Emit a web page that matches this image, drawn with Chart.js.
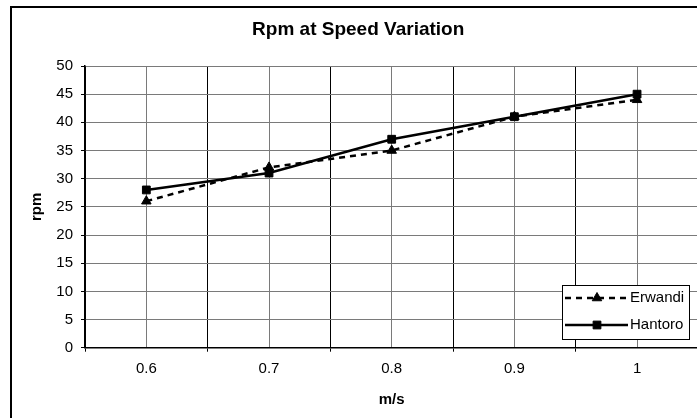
<!DOCTYPE html>
<html>
<head>
<meta charset="utf-8">
<script src="https://cdn.jsdelivr.net/npm/chart.js@4.4.1/dist/chart.umd.min.js"></script>
<style>
  html, body { margin: 0; padding: 0; background: #fff; overflow: hidden; }
  #myChart { display: block; position: absolute; left: 0; top: 0; }
</style>
</head>
<body>
<canvas id="myChart" width="720" height="418" style="width:720px;height:418px"></canvas>
<script>
// data
var speeds = [0.6, 0.7, 0.8, 0.9, 1.0];
var speedLabels = ['0.6', '0.7', '0.8', '0.9', '1'];
var erwandi = [26, 32, 35, 41, 44];
var hantoro = [28, 31, 37, 41, 45];

function toPoints(vals) {
    return speeds.map(function (s, i) { return { x: s, y: vals[i] }; });
}

// boundaries + centres, like the excel category axis
function xTickValues() {
    var out = [];
    speeds.forEach(function (s) {
        out.push(Math.round((s - 0.05) * 100) / 100);
        out.push(s);
    });
    out.push(Math.round((speeds[speeds.length - 1] + 0.05) * 100) / 100);
    return out;
}

// outer chart border (only top and left are inside the picture)
var frame = {
    id: 'frame',
    beforeDraw: function (chart) {
        var ctx = chart.ctx;
        ctx.save();
        ctx.fillStyle = '#fff';
        ctx.fillRect(0, 0, chart.width, chart.height);
        ctx.strokeStyle = '#000';
        ctx.lineWidth = 2;
        ctx.beginPath();
        ctx.moveTo(11, chart.height + 5);
        ctx.lineTo(11, 7);
        ctx.lineTo(chart.width + 5, 7);
        ctx.stroke();
        ctx.restore();
    }
};

var boxLegend = {
    id: 'boxLegend',
    afterDraw: function (chart) {
        var ctx = chart.ctx;
        var bx = 562, by = 285, bw = 127, bh = 54;
        ctx.save();
        ctx.fillStyle = '#fff';
        ctx.fillRect(bx, by, bw, bh);
        ctx.strokeStyle = '#000';
        ctx.lineWidth = 1;
        ctx.strokeRect(bx + 0.5, by + 0.5, bw, bh);
        var rows = [by + 13, by + 40];
        chart.data.datasets.forEach(function (ds, i) {
            var y = rows[i];
            ctx.beginPath();
            ctx.setLineDash(ds.borderDash || []);
            ctx.lineWidth = ds.borderWidth;
            ctx.strokeStyle = ds.borderColor;
            ctx.moveTo(bx + 3, y);
            ctx.lineTo(bx + 66, y);
            ctx.stroke();
            ctx.setLineDash([]);
            ctx.fillStyle = '#000';
            ctx.strokeStyle = '#000';
            ctx.lineWidth = 1;
            Chart.helpers.drawPoint(ctx, {
                pointStyle: ds.pointStyle, radius: ds.pointRadius,
                borderWidth: 1, rotation: 0
            }, bx + 35, y);
            ctx.fillStyle = '#000';
            ctx.font = '15px "Liberation Sans", Arial, sans-serif';
            ctx.textBaseline = 'middle';
            ctx.textAlign = 'left';
            ctx.fillText(ds.label, bx + 68, y);
        });
        ctx.restore();
    }
};

Chart.defaults.font.family = '"Liberation Sans", Arial, sans-serif';
Chart.defaults.color = '#000';

var ctx = document.getElementById('myChart').getContext('2d');
var myChart = new Chart(ctx, {
    type: 'line',
    data: {
        datasets: [
            {
                label: 'Erwandi',
                data: toPoints(erwandi),
                borderColor: '#000',
                backgroundColor: '#000',
                borderWidth: 2.5,
                borderDash: [6, 5],
                pointStyle: 'triangle',
                pointRadius: 5.5,
                pointBorderWidth: 1,
                pointBackgroundColor: '#000',
                pointBorderColor: '#000'
            },
            {
                label: 'Hantoro',
                data: toPoints(hantoro),
                borderColor: '#000',
                backgroundColor: '#000',
                borderWidth: 2.5,
                pointStyle: 'rect',
                pointRadius: 5.5,
                pointBorderWidth: 1,
                pointBackgroundColor: '#000',
                pointBorderColor: '#000'
            }
        ]
    },
    options: {
        responsive: false,
        animation: false,
        layout: { padding: { left: 18, right: 21.6, top: 8, bottom: 0 } },
        elements: { line: { tension: 0 } },
        plugins: {
            legend: { display: false },
            tooltip: { enabled: false },
            title: {
                display: true,
                text: 'Rpm at Speed Variation',
                font: { size: 19, weight: 'bold' },
                color: '#000',
                padding: { top: 10.6, bottom: 24.6 }
            }
        },
        scales: {
            x: {
                type: 'linear',
                min: 0.55,
                max: 1.05,
                afterBuildTicks: function (scale) {
                    scale.ticks = xTickValues().map(function (v) { return { value: v }; });
                },
                afterFit: function (scale) { scale.height = 70.3; },
                ticks: {
                    autoSkip: false,
                    maxRotation: 0,
                    padding: 8,
                    font: { size: 15 },
                    callback: function (value, index) {
                        return index % 2 === 1 ? speedLabels[(index - 1) / 2] : '';
                    }
                },
                grid: {
                    lineWidth: 1,
                    tickLength: 4,
                    color: function (c) { return c.index % 2 === 1 ? '#7a7a7a' : '#000'; },
                    tickColor: function (c) { return c.index % 2 === 1 ? 'rgba(0,0,0,0)' : '#000'; }
                },
                border: { color: '#000', width: 1.5 },
                title: {
                    display: true,
                    text: 'm/s',
                    font: { size: 15, weight: 'bold' },
                    padding: { top: 0, bottom: 9 }
                }
            },
            y: {
                min: 0,
                max: 50,
                afterFit: function (scale) { scale.width = 67; },
                ticks: {
                    stepSize: 5,
                    padding: 8,
                    font: { size: 15 }
                },
                grid: {
                    lineWidth: 1,
                    tickLength: 4,
                    color: '#7a7a7a',
                    tickColor: '#000'
                },
                border: { color: '#000', width: 1.5 },
                title: {
                    display: true,
                    text: 'rpm',
                    font: { size: 15, weight: 'bold' },
                    padding: { top: 10, bottom: 0 }
                }
            }
        }
    },
    plugins: [frame, boxLegend]
});
</script>
</body>
</html>
